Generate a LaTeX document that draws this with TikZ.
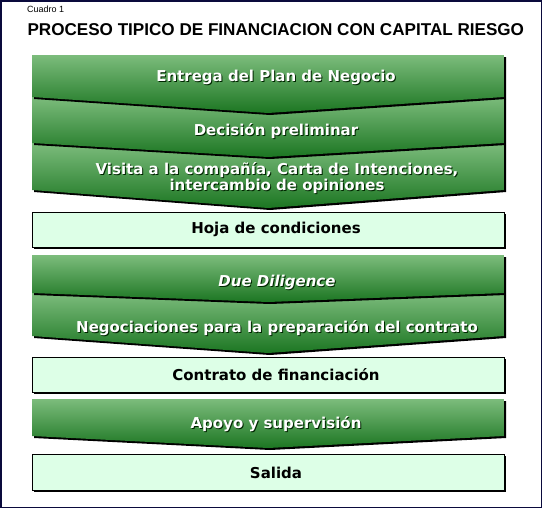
\documentclass[tikz,border=0pt]{standalone}
\usepackage{fontspec}
\setmainfont{Liberation Sans}
\newfontfamily\labfont{DejaVu Sans}
\definecolor{gtop}{RGB}{124,188,124}
\definecolor{gmid}{RGB}{92,168,92}
\definecolor{gbot}{RGB}{28,118,34}
\definecolor{boxfill}{RGB}{221,255,231}
\definecolor{framecol}{RGB}{10,10,60}
\tikzset{
  greenshape/.style={top color=gtop, middle color=gmid, bottom color=gbot, draw=none},
  lab/.style={font=\labfont\bfseries\fontsize{15}{12}\selectfont, inner sep=0pt, align=center},
  wlab/.style={lab, text=white},
  slab/.style={lab, text=black!75!green!60!black},
  blab/.style={lab, text=black},
  lightbox/.style={fill=boxfill, draw=black, line width=0.8pt},
}
\newcommand\chevshape[3]{%
  \fill[black] (34,#1+2) -- (506,#1+2) -- (506,#2+2) -- (270,#3+2) -- (34,#2+2) -- cycle;
  \shade[greenshape] (32,#1) -- (504,#1) -- (504,#2) -- (268,#3) -- (32,#2) -- cycle;}
\newcommand\lightrect[2]{%
  \fill[black] (34,#1+2) rectangle (506,#2+2);
  \draw[lightbox] (32,#1) rectangle (504,#2);}
\begin{document}
\begin{tikzpicture}[x=1pt,y=-1pt]
\useasboundingbox (0,0) rectangle (543,509);
\fill[white] (0,0) rectangle (543,509);
\draw[framecol, line width=1.5pt] (1,1) rectangle (541.5,507.5);
\node[anchor=base west, font=\fontsize{9}{11}\selectfont, inner sep=0pt] (cuadro) at (27,12.7) {Cuadro 1};
\node[anchor=base west, font=\bfseries\fontsize{17.1}{20}\selectfont, inner sep=0pt] (title) at (27.3,35) {PROCESO TIPICO DE FINANCIACION CON CAPITAL RIESGO};
% green chevrons, group 1 (lowest first)
\chevshape{143}{190}{208}
\chevshape{97}{143}{157}
\chevshape{55}{97}{113}
\lightrect{212}{247}
\chevshape{293}{336}{353}
\chevshape{255}{293}{302}
\lightrect{357}{392}
\chevshape{399}{436}{448}
\lightrect{454}{490}
% labels
\node[slab] (t1s) at (277,78) {Entrega del Plan de Negocio};
\node[wlab] (t1) at (276,77) {Entrega del Plan de Negocio};
\node[slab] (t2s) at (277,132) {Decisión preliminar};
\node[wlab] (t2) at (276,131) {Decisión preliminar};
\node[slab] (t3s) at (278,179) {Visita a la compañía, Carta de Intenciones,\\intercambio de opiniones};
\node[wlab] (t3) at (277,178) {Visita a la compañía, Carta de Intenciones,\\intercambio de opiniones};
\node[blab] (t4) at (276,229) {Hoja de condiciones};
\node[slab, font=\labfont\bfseries\itshape\fontsize{15}{12}\selectfont] (t5s) at (278,283) {Due Diligence};
\node[wlab, font=\labfont\bfseries\itshape\fontsize{15}{12}\selectfont] (t5) at (277,282) {Due Diligence};
\node[slab] (t6s) at (278,329) {Negociaciones para la preparación del contrato};
\node[wlab] (t6) at (277,328) {Negociaciones para la preparación del contrato};
\node[blab] (t7) at (276,375) {Contrato de financiación};
\node[slab] (t8s) at (277,425) {Apoyo y supervisión};
\node[wlab] (t8) at (276,424) {Apoyo y supervisión};
\node[blab] (t9) at (276,473) {Salida};
\end{tikzpicture}
\end{document}
